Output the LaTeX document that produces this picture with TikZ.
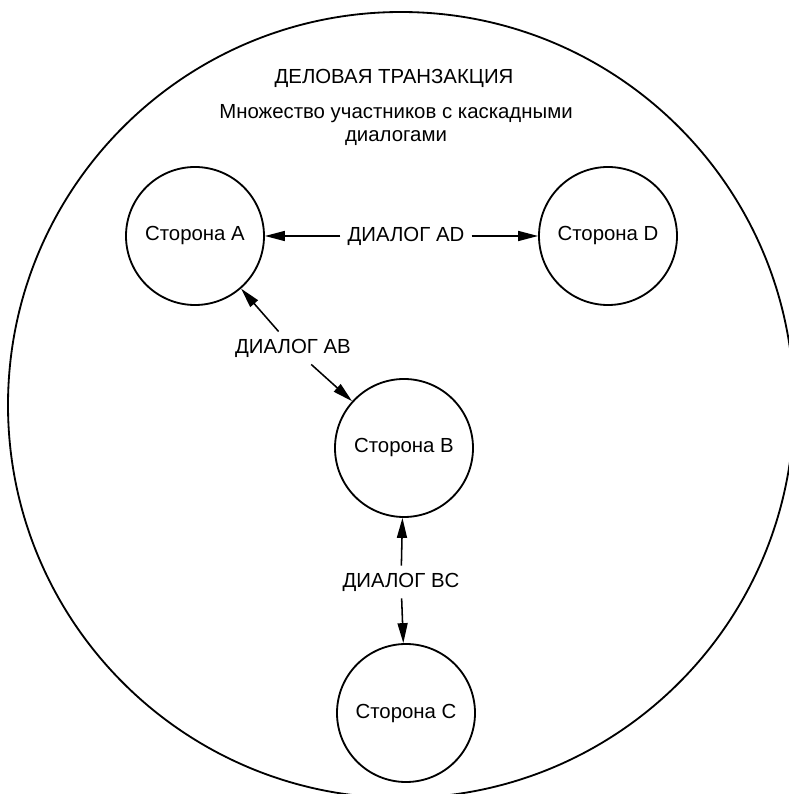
\documentclass[tikz,border=0pt]{standalone}
\usepackage{fontspec}
\setmainfont{Liberation Sans}
\usetikzlibrary{arrows.meta}

\tikzset{
    party/.style={draw, circle, line width=1.3pt, minimum size=3.45cm, inner sep=0pt},
    dialog/.style={inner sep=5pt},
}

\begin{document}
\begin{tikzpicture}[>={Triangle[length=5mm,width=2.5mm]}, font=\fontsize{14.5}{16}\selectfont]

    \clip (0,0) rectangle (19.725,19.85);
    \draw[line width=1.3pt] (10.025,9.725) circle (9.825);

    \node (T) at (9.85,17.9) {ДЕЛОВАЯ ТРАНЗАКЦИЯ};
    \node[align=center] (S) at (9.9,16.72) {Множество участников с каскадными\\диалогами};

    \node[party] (A) at (4.875,13.95) {Сторона A};
    \node[party] (D) at (15.2,13.95) {Сторона D};
    \node[party] (B) at (10.1,8.65) {Сторона B};
    \node[party] (C) at (10.15,2.025) {Сторона C};

    \node[dialog] (AD) at (10.15,13.95) {ДИАЛОГ AD};
    \node[dialog] (AB) at (7.325,11.15) {ДИАЛОГ AB};
    \node[dialog] (BC) at (10.025,5.3) {ДИАЛОГ BC};

    \draw[line width=1.1pt, ->] (AD) -- (A);
    \draw[line width=1.1pt, ->] (AD) -- (D);
    \draw[line width=1.1pt, ->] (AB) -- (A);
    \draw[line width=1.1pt, ->] (AB) -- (B);
    \draw[line width=1.1pt, ->] (BC) -- (B);
    \draw[line width=1.1pt, ->] (BC) -- (C);

\end{tikzpicture}
\end{document}
